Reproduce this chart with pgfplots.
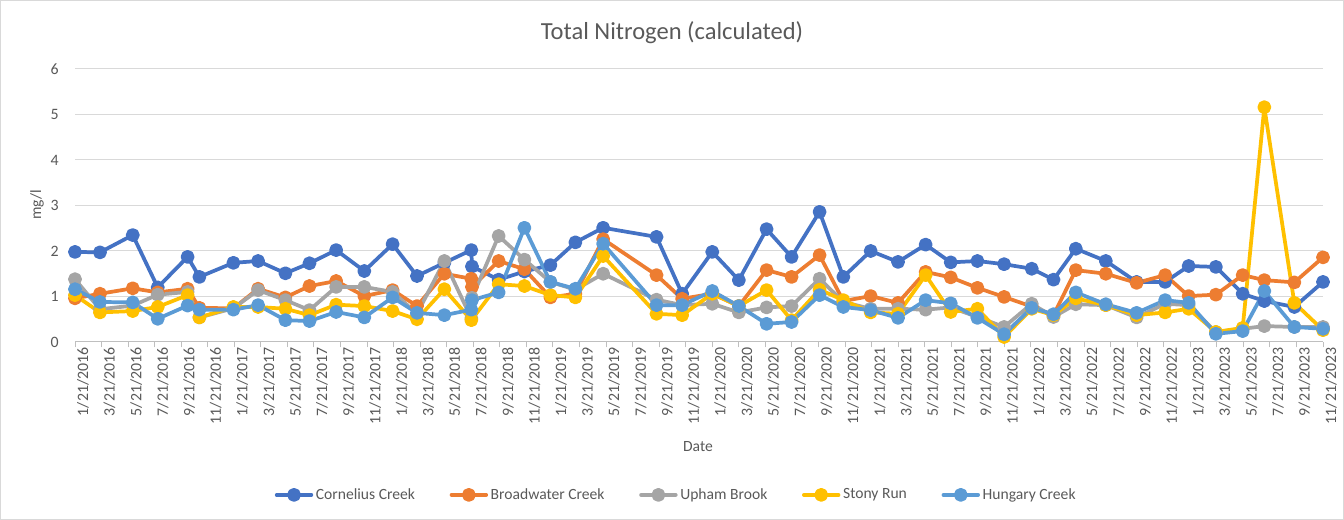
\documentclass[border=0pt]{standalone}
\usepackage{pgfplots}
\pgfplotsset{compat=1.18}
\usepackage{fontspec}
\setmainfont{Carlito}
\definecolor{cCor}{HTML}{4472C4}
\definecolor{cBro}{HTML}{ED7D31}
\definecolor{cUph}{HTML}{A5A5A5}
\definecolor{cSto}{HTML}{FFC000}
\definecolor{cHun}{HTML}{5B9BD5}
\definecolor{txtgray}{HTML}{595959}
\definecolor{gridgray}{HTML}{D9D9D9}
\definecolor{axisgray}{HTML}{BFBFBF}
\begin{document}
\begin{tikzpicture}
\path[use as bounding box] (0,0) rectangle (1008pt,390pt);
\draw[gridgray, line width=0.75pt] (0.4pt,0.4pt) rectangle (1007.6pt,389.6pt);
\node[font=\fontsize{18.4}{22}\selectfont, text=txtgray] at (504pt,365.25pt) {Total Nitrogen (calculated)};
\node[font=\fontsize{11.7}{14}\selectfont, text=txtgray, rotate=90] at (27.75pt,236.25pt) {mg/l};
\node[font=\fontsize{11.7}{14}\selectfont, text=txtgray] at (523.5pt,54.75pt) {Date};
\begin{axis}[
  at={(56.25pt,133.5pt)}, anchor=south west,
  scale only axis, width=936pt, height=204.75pt,
  xmin=0, xmax=94, ymin=0, ymax=6,
  enlargelimits=false, clip=false,
  axis x line*=bottom, axis y line*=left,
  y axis line style={draw=none},
  x axis line style={draw=axisgray, line width=0.75pt, -},
  ymajorgrids, grid style={gridgray, line width=0.75pt},
  ytick={0,1,2,3,4,5,6},
  xtick={0,2,...,94},
  xticklabels={1/21/2016,3/21/2016,5/21/2016,7/21/2016,9/21/2016,11/21/2016,
               1/21/2017,3/21/2017,5/21/2017,7/21/2017,9/21/2017,11/21/2017,
               1/21/2018,3/21/2018,5/21/2018,7/21/2018,9/21/2018,11/21/2018,
               1/21/2019,3/21/2019,5/21/2019,7/21/2019,9/21/2019,11/21/2019,
               1/21/2020,3/21/2020,5/21/2020,7/21/2020,9/21/2020,11/21/2020,
               1/21/2021,3/21/2021,5/21/2021,7/21/2021,9/21/2021,11/21/2021,
               1/21/2022,3/21/2022,5/21/2022,7/21/2022,9/21/2022,11/21/2022,
               1/21/2023,3/21/2023,5/21/2023,7/21/2023,9/21/2023,11/21/2023},
  tick align=outside, major tick length=4pt,
  xtick style={draw=axisgray, line width=0.75pt},
  ytick style={draw=none},
  ticklabel style={font=\fontsize{11.9}{14}\selectfont, text=txtgray},
  xticklabel style={rotate=90, anchor=east, inner sep=0pt, xshift=0pt, yshift=-6pt},
  yticklabel style={inner sep=0pt, xshift=-8pt, anchor=east},
  /pgf/number format/assume math mode=true,
  every axis plot/.append style={line width=2.8pt, line join=round, line cap=round, mark=*, mark size=3.8pt, mark options={solid}},
  legend columns=5,
  legend style={at={(axis description cs:0.482,-0.56)}, anchor=center, draw=none, fill=none,
    font=\fontsize{11.7}{14}\selectfont, text=txtgray,
    /tikz/every even column/.append style={column sep=24pt}},
  legend image code/.code={\draw[mark repeat=2,mark phase=2] plot coordinates {(0pt,0pt)(13pt,0pt)(26pt,0pt)};},
]
\addplot[cCor] coordinates {(0,1.98)(1.88,1.97)(4.35,2.35)(6.23,1.20)(8.48,1.87)(9.37,1.43)(11.93,1.74)(13.79,1.78)(15.85,1.51)(17.66,1.73)(19.67,2.02)(21.79,1.56)(23.92,2.15)(25.76,1.45)(27.82,1.74)(29.85,2.02)(29.9,1.66)(31.91,1.37)(33.85,1.55)(35.81,1.69)(37.69,2.19)(39.78,2.51)(43.80,2.31)(45.73,1.06)(48.00,1.98)(50.00,1.36)(52.09,2.48)(53.97,1.87)(56.08,2.86)(57.87,1.43)(59.93,2.00)(61.99,1.76)(64.07,2.14)(65.96,1.75)(67.97,1.78)(69.98,1.71)(72.06,1.61)(73.70,1.37)(75.38,2.05)(77.64,1.78)(79.96,1.32)(82.11,1.32)(83.88,1.67)(85.93,1.65)(87.95,1.06)(89.58,0.90)(91.84,0.77)(94,1.32)};
\addlegendentry{Cornelius Creek}
\addplot[cBro] coordinates {(0,0.96)(1.88,1.06)(4.35,1.18)(6.23,1.09)(8.48,1.17)(9.37,0.75)(11.93,0.74)(13.79,1.17)(15.85,0.98)(17.66,1.23)(19.67,1.34)(21.79,1.01)(23.92,1.14)(25.76,0.79)(27.82,1.50)(29.85,1.39)(29.9,1.21)(31.91,1.78)(33.85,1.60)(35.81,0.98)(37.69,1.06)(39.78,2.26)(43.80,1.47)(45.73,0.95)(48.00,1.06)(50.00,0.79)(52.09,1.58)(53.97,1.43)(56.08,1.91)(57.87,0.90)(59.93,1.01)(61.99,0.86)(64.07,1.54)(65.96,1.42)(67.97,1.19)(69.98,0.99)(72.06,0.78)(73.70,0.59)(75.38,1.58)(77.64,1.50)(79.96,1.30)(82.11,1.47)(83.88,1.01)(85.93,1.04)(87.95,1.47)(89.58,1.36)(91.84,1.31)(94,1.86)};
\addlegendentry{Broadwater Creek}
\addplot[cUph] coordinates {(0,1.38)(1.88,0.72)(4.35,0.80)(6.23,1.04)(8.48,1.10)(9.37,0.54)(11.93,0.74)(13.79,1.14)(15.85,0.92)(17.66,0.70)(19.67,1.21)(21.79,1.21)(23.92,1.10)(25.76,0.62)(27.82,1.78)(29.85,0.52)(29.9,0.97)(31.91,2.33)(33.85,1.81)(35.81,1.32)(37.69,1.15)(39.78,1.50)(43.80,0.93)(45.73,0.81)(48.00,0.84)(50.00,0.65)(52.09,0.76)(53.97,0.79)(56.08,1.39)(57.87,0.88)(59.93,0.73)(61.99,0.73)(64.07,0.71)(65.96,0.76)(67.97,0.55)(69.98,0.33)(72.06,0.84)(73.70,0.55)(75.38,0.83)(77.64,0.81)(79.96,0.54)(82.11,0.84)(83.88,0.81)(85.93,0.22)(87.95,0.29)(89.58,0.35)(91.84,0.33)(94,0.33)};
\addlegendentry{Upham Brook}
\addplot[cSto] coordinates {(0,1.03)(1.88,0.65)(4.35,0.68)(6.23,0.77)(8.48,1.03)(9.37,0.54)(11.93,0.77)(13.79,0.77)(15.85,0.73)(17.66,0.59)(19.67,0.82)(21.79,0.79)(23.92,0.68)(25.76,0.50)(27.82,1.16)(29.85,0.48)(31.91,1.27)(33.85,1.23)(35.81,1.03)(37.69,0.98)(39.78,1.89)(43.80,0.62)(45.73,0.59)(48.00,1.06)(50.00,0.79)(52.09,1.14)(53.97,0.48)(56.08,1.15)(57.87,0.92)(59.93,0.65)(61.99,0.62)(64.07,1.47)(65.96,0.66)(67.97,0.73)(69.98,0.11)(72.06,0.73)(73.70,0.59)(75.38,0.96)(77.64,0.81)(79.96,0.59)(82.11,0.65)(83.88,0.73)(85.93,0.22)(87.95,0.31)(89.58,5.16)(91.84,0.86)(94,0.26)};
\addlegendentry{Stony Run}
\addplot[cHun] coordinates {(0,1.16)(1.88,0.88)(4.35,0.87)(6.23,0.51)(8.48,0.80)(9.37,0.71)(11.93,0.71)(13.79,0.81)(15.85,0.48)(17.66,0.46)(19.67,0.66)(21.79,0.54)(23.92,0.98)(25.76,0.64)(27.82,0.59)(29.85,0.71)(29.9,0.92)(31.91,1.09)(33.85,2.51)(35.81,1.32)(37.69,1.17)(39.78,2.16)(43.80,0.81)(45.73,0.81)(48.00,1.12)(50.00,0.79)(52.09,0.40)(53.97,0.44)(56.08,1.03)(57.87,0.77)(59.93,0.70)(61.99,0.53)(64.07,0.92)(65.96,0.85)(67.97,0.53)(69.98,0.17)(72.06,0.75)(73.70,0.61)(75.38,1.09)(77.64,0.83)(79.96,0.64)(82.11,0.92)(83.88,0.86)(85.93,0.18)(87.95,0.24)(89.58,1.12)(91.84,0.33)(94,0.29)};
\addlegendentry{Hungary Creek}
\end{axis}
\end{tikzpicture}
\end{document}
